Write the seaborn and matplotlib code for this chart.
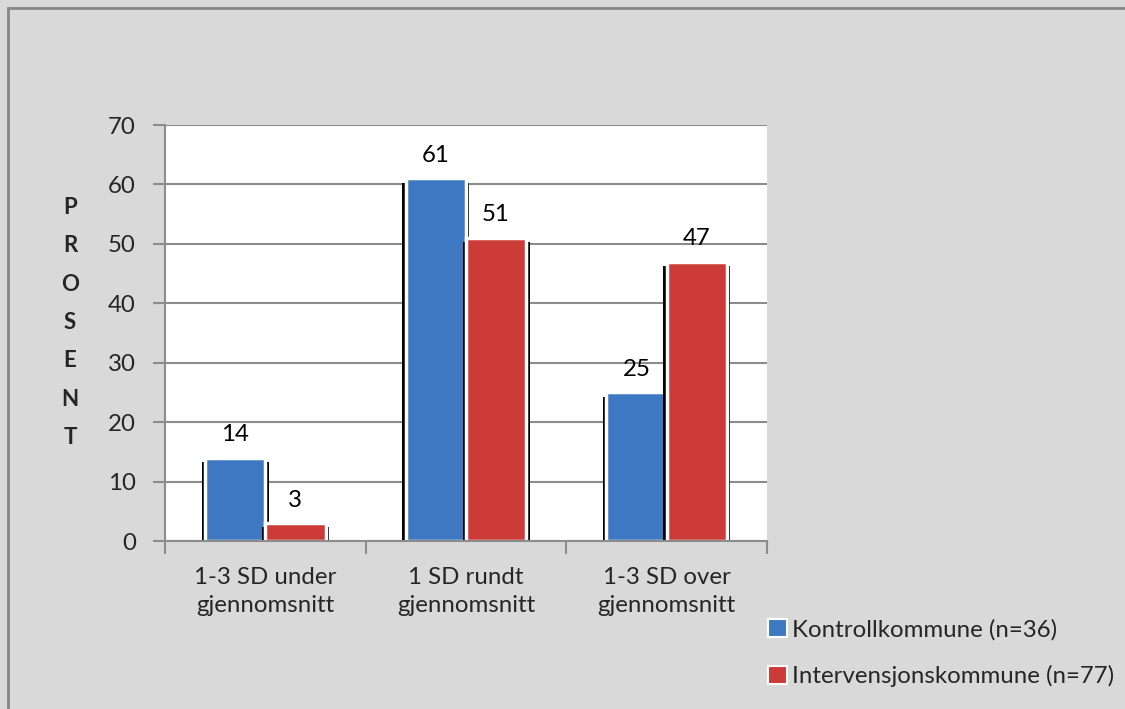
import matplotlib
matplotlib.use("Agg")
import matplotlib.pyplot as plt
import matplotlib.patheffects as pe
from matplotlib.patches import Rectangle
import seaborn as sns
import pandas as pd

categories = ["1-3 SD under\ngjennomsnitt", "1 SD rundt\ngjennomsnitt", "1-3 SD over\ngjennomsnitt"]
kontroll = [14, 61, 25]
intervensjon = [3, 51, 47]
series_names = ["Kontrollkommune (n=36)", "Intervensjonskommune (n=77)"]
y_ticks = [0, 10, 20, 30, 40, 50, 60, 70]

df = pd.DataFrame({
    "kategori": categories * 2,
    "prosent": kontroll + intervensjon,
    "gruppe": [series_names[0]] * 3 + [series_names[1]] * 3,
})

sns.set_theme(style="white")
plt.rcParams["font.family"] = ["Lato", "DejaVu Sans"]

BG = "#d9d9d9"
GRID = "#8c8c8c"
FS = 17.3
palette = {series_names[0]: "#3f78c2", series_names[1]: "#cc3b37"}

fig = plt.figure(figsize=(11.25, 7.09), dpi=100, facecolor=BG)
ax = fig.add_axes([165 / 1125, 1 - 541 / 709, (767 - 165) / 1125, (541 - 125) / 709])
ax.set_facecolor("white")

sns.barplot(data=df, x="kategori", y="prosent", hue="gruppe", palette=palette,
            width=0.6, gap=0, saturation=1, ax=ax, legend=True)

shadow = [pe.SimplePatchShadow(offset=(-2.5, -3), shadow_rgbFace="black", alpha=1.0),
          pe.SimplePatchShadow(offset=(2.5, -3), shadow_rgbFace="black", alpha=1.0),
          pe.Normal()]
for patch in ax.patches:
    patch.set_edgecolor("white")
    patch.set_linewidth(2.5)
    patch.set_path_effects(shadow)

for cont in ax.containers:
    ax.bar_label(cont, fmt="%d", padding=9, fontsize=FS, color="black")

ax.set_ylim(0, 70)
ax.set_xlim(-0.5, 2.5)
ax.set_yticks(y_ticks)
ax.grid(axis="y", color=GRID, linewidth=1.5)
ax.set_axisbelow(True)
for side in ["top", "right"]:
    ax.spines[side].set_visible(False)
for side in ["left", "bottom"]:
    ax.spines[side].set_color(GRID)
    ax.spines[side].set_linewidth(1.5)

ax.tick_params(axis="y", direction="out", length=9, width=1.5, color=GRID,
               labelsize=FS, pad=12, left=True)
ax.set_xticks([-0.5, 0.5, 1.5, 2.5], minor=True)
ax.tick_params(axis="x", which="minor", direction="out", length=9, width=1.5, color=GRID, bottom=True)
ax.tick_params(axis="x", which="major", length=0, labelsize=FS, pad=19)
for lbl in ax.get_xticklabels():
    lbl.set_linespacing(1.38)

ax.set_xlabel("")
ax.set_ylabel("\n".join("PROSENT"), rotation=0, fontsize=16, fontweight="bold",
              linespacing=2.02, va="center", ha="center", labelpad=0)
ax.yaxis.set_label_coords(-0.158, 0.525)

leg = ax.legend(loc="upper left", bbox_to_anchor=(758 / 1125, 1 - 609 / 709),
                bbox_transform=fig.transFigure, frameon=False, fontsize=FS,
                handlelength=0.8, handleheight=0.8, handletextpad=0.2,
                labelspacing=1.05, borderaxespad=0)
for h in leg.legend_handles:
    h.set_path_effects([])
    h.set_edgecolor("white")
    h.set_linewidth(1.5)

fig.add_artist(Rectangle((8 / 1125, -0.05), 1.2, 1 - 8 / 709 + 0.05,
                         transform=fig.transFigure, fill=False,
                         edgecolor="#868686", linewidth=2))

fig.savefig("out.png", dpi=100, facecolor=BG)
